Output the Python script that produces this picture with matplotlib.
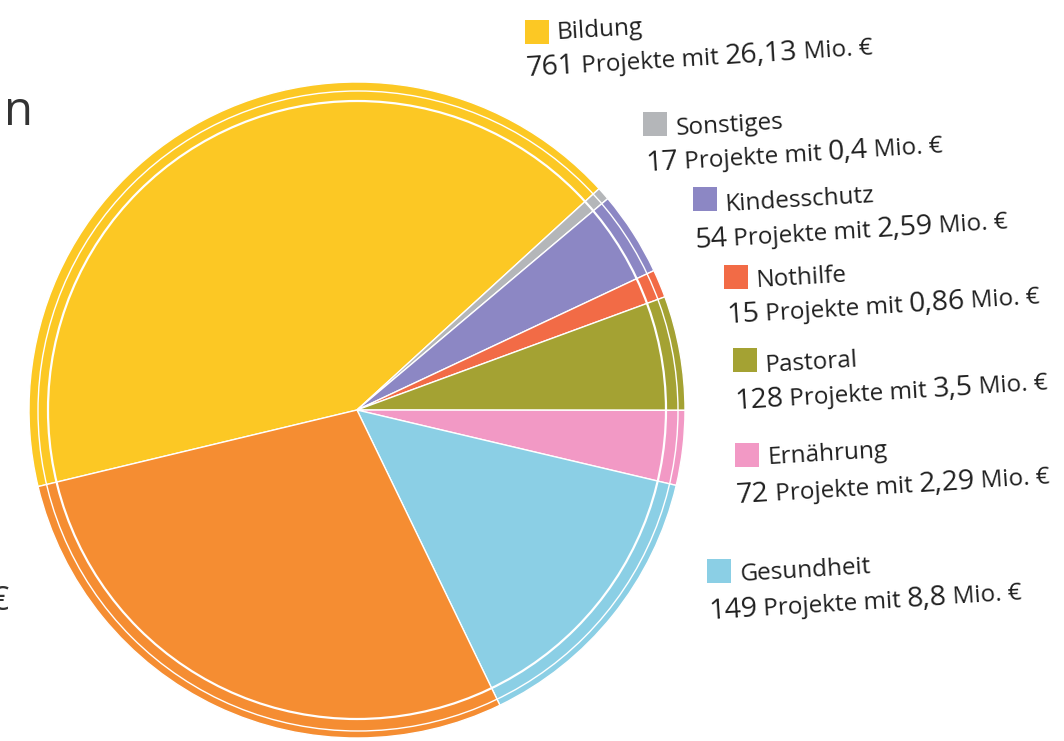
import numpy as np
import matplotlib
matplotlib.use("Agg")
import matplotlib.pyplot as plt
from matplotlib.patches import Circle, Rectangle

# ---------------------------------------------------------------------
#   Data (Mio. EUR per Bereich; last slice is cut off in the original)
# ---------------------------------------------------------------------
categories = ["Bildung", "Sonstiges", "Kindesschutz", "Nothilfe",
              "Pastoral", "Ernährung", "Gesundheit", "(abgeschnitten)"]
projects = [761, 17, 54, 15, 128, 72, 149, None]
amounts = [26.13, 0.4, 2.59, 0.86, 3.5, 2.29, 8.8, 17.7]

colors = ["#FCC824", "#B4B6B9", "#8C87C4", "#F26B46",
          "#A4A233", "#F299C5", "#8BCFE5", "#F58D32"]

# label layout: square corner (x, y top in px), name baseline, line 2 baseline
label_pos = [
    (525, 20, 557, 39, 527, 76),
    (643, 112, 676, 135, 646, 171),
    (693, 187, 726, 211, 695, 248),
    (724, 265, 757, 287, 727, 323),
    (733, 348, 766, 372, 735, 409),
    (735, 443, 768, 464, 737, 503),
    (707, 559, 740, 581, 709, 619),
]

W, H = 1064, 741
TXT = "#202020"
ANGLE = 3.5
FONT = "Open Sans"
WEIGHT = 500

fig = plt.figure(figsize=(W / 100, H / 100), dpi=100)
ax = fig.add_axes([0, 0, 1, 1])

cx, cy, R = 357, H - 410, 328

ax.pie(amounts, colors=colors, startangle=193.5, counterclock=False,
       center=(cx, cy), radius=R,
       wedgeprops=dict(edgecolor="white", linewidth=1.0))

# hand-drawn looking white rings near the rim
ax.add_patch(Circle((cx, cy), 309, fill=False, edgecolor="white", lw=1.6))
ax.add_patch(Circle((cx + 1, cy - 1), 320, fill=False, edgecolor="white", lw=1.0))

ax.set_xlim(0, W)
ax.set_ylim(0, H)
ax.set_aspect("equal")
ax.axis("off")

renderer = fig.canvas.get_renderer()


def text_width(s, size):
    t1 = ax.text(0, 0, s + "|", fontsize=size, family=FONT, fontweight=WEIGHT)
    t2 = ax.text(0, 0, "|", fontsize=size, family=FONT, fontweight=WEIGHT)
    w = t1.get_window_extent(renderer).width - t2.get_window_extent(renderer).width
    t1.remove()
    t2.remove()
    return w


def rich_line(x, y, parts):
    a = np.radians(ANGLE)
    for s, size in parts:
        ax.text(x, y, s, fontsize=size, family=FONT, fontweight=WEIGHT,
                color=TXT, rotation=ANGLE, rotation_mode="anchor",
                ha="left", va="baseline")
        w = text_width(s, size)
        x += w * np.cos(a)
        y += w * np.sin(a)


for i, pos in enumerate(label_pos):
    sx, sy, nx, ny, lx, ly = pos
    ax.add_patch(Rectangle((sx, H - sy - 24), 24, 24, color=colors[i], lw=0))
    ax.text(nx, H - ny, categories[i], fontsize=17.5, family=FONT,
            fontweight=WEIGHT, color=TXT, rotation=ANGLE,
            rotation_mode="anchor", ha="left", va="baseline")
    amt = ("%g" % amounts[i]).replace(".", ",")
    rich_line(lx, H - ly, [(str(projects[i]), 20.5), (" Projekte mit ", 17.5),
                           (amt, 20.5), (" Mio. €", 17.5)])

# fragments of cut-off text on the left edge
ax.text(4, H - 125, "n", fontsize=34, family=FONT, color="#333333",
        ha="left", va="baseline")
ax.text(8, H - 610, "€", fontsize=24, family=FONT, color="#333333",
        ha="right", va="baseline")

fig.savefig("out.png", dpi=100, facecolor="white")
